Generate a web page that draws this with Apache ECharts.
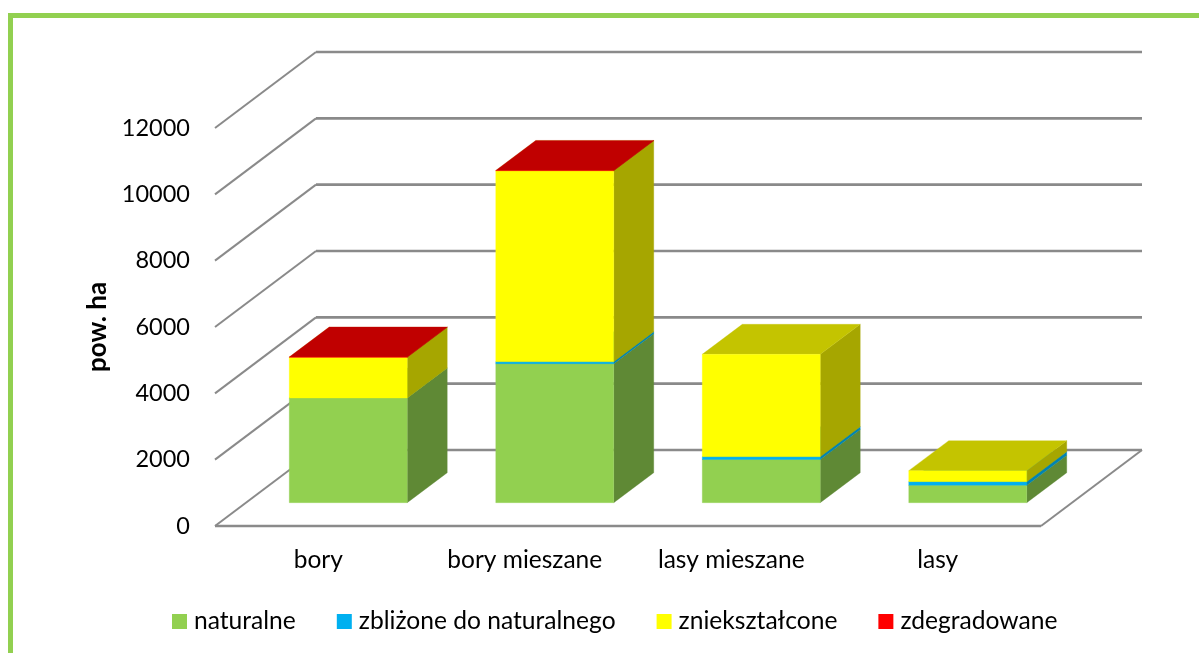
<!DOCTYPE html>
<html>
<head>
<meta charset="utf-8">
<script src="https://cdn.jsdelivr.net/npm/echarts@6/dist/echarts.min.js"></script>
<style>html,body{margin:0;padding:0;background:#fff}#c{width:1199px;height:653px}</style>
</head>
<body>
<div id="c"></div>
<script>
const categories = ['bory', 'bory mieszane', 'lasy mieszane', 'lasy'];
const yTicks = [0, 2000, 4000, 6000, 8000, 10000, 12000];
const naturalne = [3156, 4190, 1302, 525];
const zblizone = [0, 60, 85, 110];
const znieksztalcone = [1227, 5758, 3087, 332];
const zdegradowane = [10, 10, 0, 0];
const seriesNames = ['naturalne', 'zbliżone do naturalnego', 'zniekształcone', 'zdegradowane'];
const seriesValues = [naturalne, zblizone, znieksztalcone, zdegradowane];
const frontColors = ['#92D050', '#00B0F0', '#FFFF00', '#FF0000'];
const sideColors = ['#5F8935', '#0083B3', '#A6A600', '#A60000'];
const topColors = ['#7AAE43', '#0093C8', '#C4C400', '#C00000'];

const FONT = 'Lato';
const WALL = { dx: 101, dy: -76 };
const BAR = { shiftX: 30, shiftY: -23.3, width: 118, dx: 40, dy: -30 };
const LINE = '#8A8A8A';

function renderWall(params, api) {
  const v = api.value(0);
  const g = params.coordSys;
  const y = api.coord([0, v])[1];
  const x0 = g.x, x1 = g.x + g.width;
  const flat = { stroke: LINE, lineWidth: 2.6, fill: null };
  const slant = { stroke: LINE, lineWidth: 2, fill: null };
  const kids = [
    { type: 'line', shape: { x1: x0, y1: y, x2: x0 + WALL.dx, y2: y + WALL.dy }, style: slant },
    { type: 'line', shape: { x1: x0 + WALL.dx, y1: y + WALL.dy, x2: x1 + WALL.dx, y2: y + WALL.dy }, style: flat }
  ];
  if (v === 0) {
    kids.push({ type: 'line', shape: { x1: x0, y1: y, x2: x1, y2: y }, style: flat });
    kids.push({ type: 'line', shape: { x1: x1, y1: y, x2: x1 + WALL.dx, y2: y + WALL.dy }, style: slant });
  }
  return { type: 'group', children: kids };
}

function makeRender(level) {
  return function (params, api) {
    const cat = api.value(0), lo = api.value(1), hi = api.value(2);
    if (hi <= lo) return null;
    const c0 = api.coord([cat, lo]), c1 = api.coord([cat, hi]);
    const xl = c0[0] + BAR.shiftX - BAR.width / 2, xr = xl + BAR.width;
    const yb = c0[1] + BAR.shiftY, yt = c1[1] + BAR.shiftY;
    const dx = BAR.dx, dy = BAR.dy;
    const poly = (pts, fill) => ({ type: 'polygon', shape: { points: pts }, style: { fill, stroke: fill, lineWidth: 0.3 } });
    return {
      type: 'group',
      children: [
        poly([[xr, yb], [xr + dx, yb + dy], [xr + dx, yt + dy], [xr, yt]], sideColors[level]),
        poly([[xl, yt], [xr, yt], [xr + dx, yt + dy], [xl + dx, yt + dy]], topColors[level]),
        poly([[xl, yb], [xr, yb], [xr, yt], [xl, yt]], frontColors[level])
      ]
    };
  };
}

const running = categories.map(() => 0);
const barSeries = seriesNames.map((name, level) => {
  const data = categories.map((_, i) => {
    const lo = running[i];
    running[i] += seriesValues[level][i];
    return [i, lo, running[i]];
  });
  return {
    name, type: 'custom', renderItem: makeRender(level), data,
    itemStyle: { color: frontColors[level] },
    encode: { x: 0, y: 2 }, silent: true, animation: false, clip: false
  };
});

const chart = echarts.init(document.getElementById('c'), null, { renderer: 'canvas' });
chart.setOption({
  animation: false,
  backgroundColor: '#fff',
  textStyle: { fontFamily: FONT },
  grid: { left: 215, width: 826, top: 128, height: 398, containLabel: false },
  xAxis: {
    type: 'category', data: categories,
    axisLine: { show: false }, axisTick: { show: false }, splitLine: { show: false },
    axisLabel: { color: '#000', fontFamily: FONT, fontSize: 24.5, margin: 22 }
  },
  yAxis: {
    type: 'value', min: 0, max: 12000, interval: 2000,
    axisLine: { show: false }, axisTick: { show: false }, splitLine: { show: false },
    axisLabel: { color: '#000', fontFamily: FONT, fontSize: 23.5, margin: 25, formatter: v => String(v) },
    name: 'pow. ha', nameLocation: 'middle', nameGap: 101, nameRotate: 90,
    nameTextStyle: { color: '#000', fontFamily: FONT, fontSize: 26, fontWeight: 'bold' }
  },
  legend: {
    data: seriesNames, left: 167, top: 604, icon: 'rect', itemWidth: 15, itemHeight: 15,
    itemGap: 41, selectedMode: false,
    textStyle: { color: '#000', fontFamily: FONT, fontSize: 24.6, padding: [0, 0, 0, 2] }
  },
  graphic: [
    { type: 'rect', shape: { x: 8, y: 13, width: 1191, height: 5 }, style: { fill: '#92D050' }, silent: true },
    { type: 'rect', shape: { x: 8, y: 13, width: 5, height: 640 }, style: { fill: '#92D050' }, silent: true }
  ],
  series: [
    { name: 'siatka', type: 'custom', renderItem: renderWall, data: yTicks.map(v => [v]),
      encode: { y: 0 }, silent: true, animation: false, clip: false }
  ].concat(barSeries)
});
</script>
</body>
</html>
